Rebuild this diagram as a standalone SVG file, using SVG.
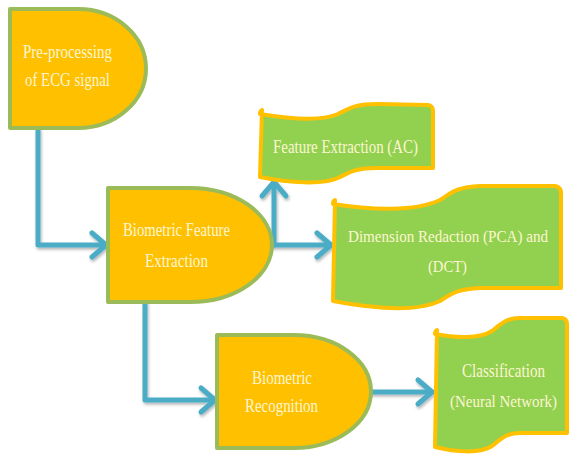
<svg xmlns="http://www.w3.org/2000/svg" width="570" height="457" viewBox="0 0 570 457">
  <style>
    .delay { fill: #FFC000; stroke: #9BBB59; stroke-width: 4; stroke-linejoin: round; }
    .wave { fill: #92D050; stroke: #FFC000; stroke-width: 4; stroke-linejoin: round; }
    .lbl { font-family: "Liberation Serif", "Times New Roman", serif; font-size: 19px; fill: #FDF6D2; }
    .mid { text-anchor: middle; font-size: 17px; }
    .conn { fill: none; stroke: #4BACC6; stroke-width: 5; stroke-linecap: round; stroke-linejoin: round; }
  </style>
  <defs>
    <filter id="sh" x="-20%" y="-20%" width="140%" height="140%">
      <feDropShadow dx="1" dy="2" stdDeviation="1.5" flood-color="#000" flood-opacity="0.3"/>
    </filter>
    <marker id="arr" markerUnits="userSpaceOnUse" viewBox="-20 -16 24 32" refX="0" refY="0" markerWidth="24" markerHeight="32" orient="auto">
      <path d="M-14,-12 L0,0 L-14,12" fill="none" stroke="#4BACC6" stroke-width="5" stroke-linecap="round" stroke-linejoin="round"/>
    </marker>
  </defs>
  <rect width="570" height="457" fill="#FFFFFF"/>

  <g id="connectors" filter="url(#sh)">
    <path class="conn" d="M38,130 V245 H106" marker-end="url(#arr)"/>
    <path class="conn" d="M272,245 H331" marker-end="url(#arr)"/>
    <path class="conn" d="M274,245 V182" marker-end="url(#arr)"/>
    <path class="conn" d="M145,303 V400 H215" marker-end="url(#arr)"/>
    <path class="conn" d="M371,392 H432" marker-end="url(#arr)"/>
  </g>

  <g id="preprocessing">
    <path class="delay" d="M10,9 H78 A68,59.5 0 0 1 78,128 H10 Z"/>
    <text class="lbl" x="23" y="58" textLength="89" lengthAdjust="spacingAndGlyphs">Pre-processing</text>
    <text class="lbl" x="25" y="86" textLength="85" lengthAdjust="spacingAndGlyphs">of ECG signal</text>
  </g>

  <g id="biometric-feature-extraction">
    <path class="delay" d="M108,188 H190 A82,57 0 0 1 190,302 H108 Z"/>
    <text class="lbl" x="123" y="236" textLength="107" lengthAdjust="spacingAndGlyphs">Biometric Feature</text>
    <text class="lbl" x="145" y="267" textLength="63" lengthAdjust="spacingAndGlyphs">Extraction</text>
  </g>

  <g id="biometric-recognition">
    <path class="delay" d="M217,335 H294 A77,56.5 0 0 1 294,448 H217 Z"/>
    <text class="lbl" x="252" y="384" textLength="60" lengthAdjust="spacingAndGlyphs">Biometric</text>
    <text class="lbl" x="245" y="412" textLength="73" lengthAdjust="spacingAndGlyphs">Recognition</text>
  </g>

  <g id="feature-extraction-ac">
    <path class="wave" d="M262,110 Q260,111 260,114 C290,119 322,121 338,114 C350,108 355,104 378,104 L428,105 Q433,106 433,111 V168 L378,168 C355,168 350,172 338,178 C322,185 290,183 260,177 Z"/>
    <text class="lbl" x="273" y="153" textLength="145" lengthAdjust="spacingAndGlyphs">Feature Extraction (AC)</text>
  </g>

  <g id="dimension-reduction">
    <path class="wave" d="M335,200 Q333,201 333,204 C370,210 415,212 440,200 C450,194 455,187 480,186 L555,186 Q561,187 561,193 V288 L480,288 C455,289 450,295 440,301 C415,313 370,308 333,301 Z"/>
    <text class="lbl mid" x="448" y="242" textLength="200" lengthAdjust="spacingAndGlyphs" style="font-size:16px">Dimension Redaction (PCA) and</text>
    <text class="lbl mid" x="447.5" y="272" textLength="39" lengthAdjust="spacingAndGlyphs">(DCT)</text>
  </g>

  <g id="classification">
    <path class="wave" d="M437,330 Q435,331 435,334 C455,338 480,339 492,331 C500,325 505,318 520,318 L562,318 Q567,319 567,324 V433 L520,433 C505,433 500,440 492,446 C480,454 455,452 435,447 Z"/>
    <text class="lbl" x="462" y="377" textLength="83" lengthAdjust="spacingAndGlyphs">Classification</text>
    <text class="lbl mid" x="503.5" y="407" textLength="107" lengthAdjust="spacingAndGlyphs">(Neural Network)</text>
  </g>
</svg>
